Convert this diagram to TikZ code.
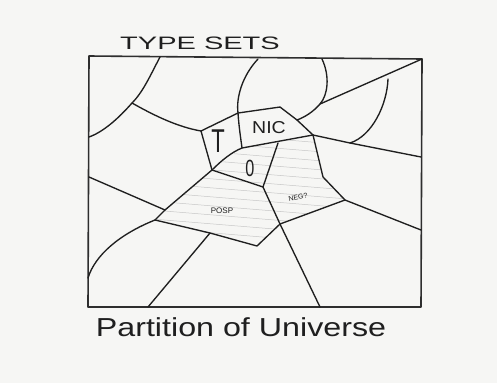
\documentclass[tikz,border=0pt]{standalone}
\usepackage{fontspec}
\setmainfont{Liberation Sans}
\begin{document}
\begin{tikzpicture}[x=1pt,y=-1pt,
  pen/.style={draw=black!88, line width=1.35pt, line join=round, line cap=round},
  framepen/.style={draw=black!82, line width=1.6pt, line join=round},
  hatch/.style={draw=black!22, line width=0.5pt},
  lbl/.style={inner sep=0pt, text=black!88}]
\useasboundingbox[fill={rgb,255:red,246;green,246;blue,244}] (0,0) rectangle (497,383);
% frame corners
\coordinate (FTL) at (89,56);
\coordinate (FTR) at (422,59);
\coordinate (FBR) at (421,307);
\coordinate (FBL) at (88,307);
% key points
\coordinate (a) at (160,57);
\coordinate (j1) at (132,103);
\coordinate (l1) at (89,137);
\coordinate (Ttl) at (201,131);
\coordinate (Ttr) at (238,113);
\coordinate (d0) at (258,59);
\coordinate (Tbr) at (242,148);
\coordinate (Tbl) at (212,170);
\coordinate (Ntop) at (280,107);
\coordinate (Nr1) at (297,120);
\coordinate (Nr) at (313,135);
\coordinate (c0) at (322,59);
\coordinate (c1) at (320,104);
\coordinate (e0) at (388,79);
\coordinate (e1) at (350,143);
\coordinate (r1) at (421,157);
\coordinate (g1) at (323,177);
\coordinate (g2) at (345,200);
\coordinate (r2) at (421,230);
\coordinate (od) at (278,143);
\coordinate (ob) at (263,187);
\coordinate (nb) at (280,224);
\coordinate (pb) at (257,246);
\coordinate (pm) at (210,233);
\coordinate (pl) at (155,220);
\coordinate (pk) at (165,210);
\coordinate (l2) at (89,177);
\coordinate (l3) at (88,278);
\coordinate (b1) at (148,307);
\coordinate (b2) at (320,307);
% hatching
\begin{scope}
  \clip (Tbl) -- (Tbr) -- (Nr) -- (g1) -- (g2) -- (nb) -- (pb) -- (pl) -- (pk) -- cycle;
  \foreach \yy in {128,137,...,262} {
    \draw[hatch] (140,\yy) -- (360,\yy+18);
  }
\end{scope}
% frame
\draw[framepen] (FTL) -- (FTR) -- (FBR) -- (FBL) -- cycle;
% lines
\draw[pen] (a) .. controls (150,76) and (143,92) .. (j1) .. controls (118,119) and (103,132) .. (l1);
\draw[pen] (j1) .. controls (155,116) and (178,127) .. (Ttl);
\draw[pen] (Ttl) -- (Ttr) -- (Ntop) -- (Nr1) -- (Nr);
\draw[pen] (d0) .. controls (242,76) and (236,98) .. (Ttr) .. controls (239,128) and (241,140) .. (Tbr);
\draw[pen] (Ttl) -- (Tbl);
\draw[pen] (Tbl) .. controls (222,160) and (232,152) .. (Tbr) -- (Nr);
\draw[pen] (c0) .. controls (330,76) and (328,95) .. (c1) .. controls (313,112) and (305,117) .. (Nr1);
\draw[pen] (c1) -- (FTR);
\draw[pen] (e0) .. controls (387,105) and (372,136) .. (e1);
\draw[pen] (Nr) -- (e1) -- (r1);
\draw[pen] (Nr) -- (g1) -- (g2) -- (r2);
\draw[pen] (g2) -- (nb);
\draw[pen] (od) -- (ob);
\draw[pen] (Tbl) -- (ob) -- (nb) -- (b2);
\draw[pen] (Tbl) -- (pk) -- (pl);
\draw[pen] (l2) -- (pk);
\draw[pen] (pl) -- (pm) -- (pb) -- (nb);
\draw[pen] (pm) -- (b1);
\draw[pen] (pl) .. controls (120,234) and (95,255) .. (l3);
% labels
\node[lbl, font=\fontsize{20}{20}\selectfont] (tT) at (218,141) {\scalebox{1.1}[1.65]{T}};
\node[lbl, font=\fontsize{15}{15}\selectfont] (tNIC) at (269,128) {\scalebox{1.3}[1.15]{NIC}};
\node[lbl, font=\fontsize{18}{18}\selectfont] (tO) at (250,168) {\scalebox{0.9}[1.3]{0}};
\node[lbl, font=\fontsize{8}{8}\selectfont] (tPOSP) at (222,211) {POSP};
\node[lbl, font=\fontsize{7}{7}\selectfont, rotate=12] (tNEG) at (298,197) {NEG?};
\node[lbl, font=\fontsize{20}{20}\selectfont] (title) at (200,43) {\scalebox{1.45}[0.9]{TYPE SETS}};
\node[lbl, font=\fontsize{26}{26}\selectfont] (cap) at (241,327) {\scalebox{1.24}[1]{Partition of Universe}};
\end{tikzpicture}
\end{document}
